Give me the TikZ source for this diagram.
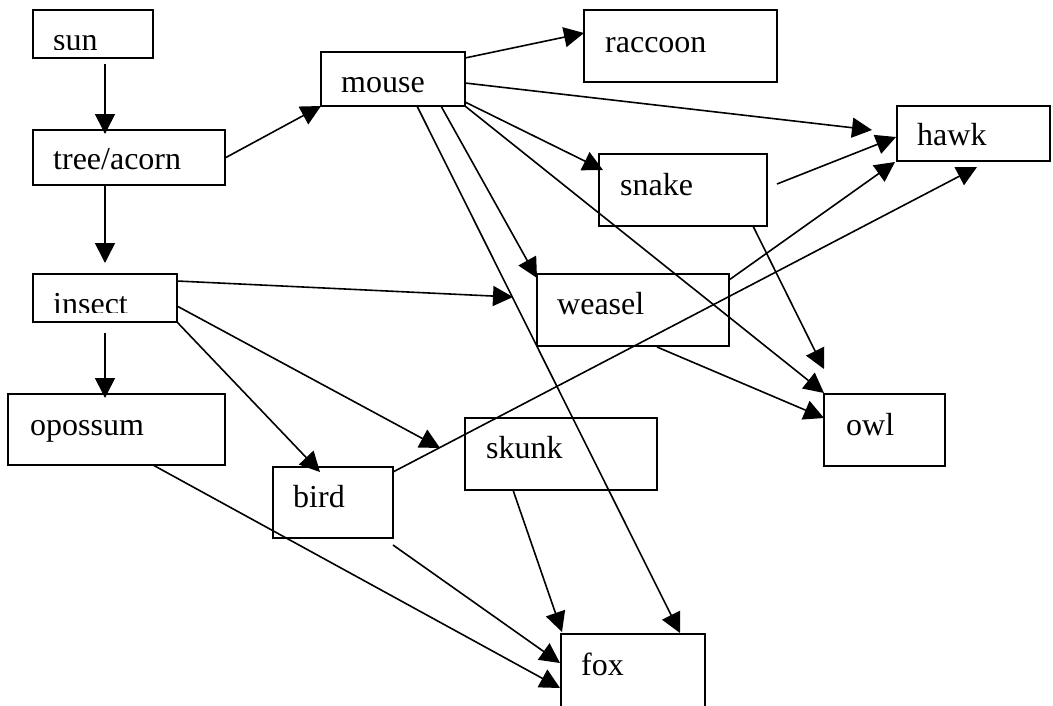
\documentclass[tikz,border=0pt]{standalone}
\usepackage{fontspec}
\setmainfont{Liberation Serif}
\usetikzlibrary{arrows.meta,calc}

\tikzset{
  box/.style={draw, line width=1.9pt, inner sep=0pt, outer sep=0pt, anchor=north west},
  lbl/.style={inner sep=0pt, anchor=base west, font=\fontsize{32}{38}\selectfont},
  arr/.style={line width=1.6pt, -{Triangle[length=20pt,width=20pt]}},
}

\begin{document}
\begin{tikzpicture}[x=1pt, y=-1pt]
\useasboundingbox (0,0) rectangle (1053,705);
\clip (0,0) rectangle (1053,705);
\fill[white] (0,0) rectangle (1053,705);

% boxes
\node[box, minimum width=120pt, minimum height=48pt] (sun)     at (33,10)   {};
\node[box, minimum width=192pt, minimum height=55pt] (tree)    at (33,130)  {};
\node[box, minimum width=144pt, minimum height=48pt] (insect)  at (33,274)  {};
\node[box, minimum width=217pt, minimum height=71pt] (opossum) at (8,394)   {};
\node[box, minimum width=144pt, minimum height=54pt] (mouse)   at (321,52)  {};
\node[box, minimum width=193pt, minimum height=72pt] (raccoon) at (584,10)  {};
\node[box, minimum width=153pt, minimum height=55pt] (hawk)    at (897,106) {};
\node[box, minimum width=168pt, minimum height=72pt] (snake)   at (599,154) {};
\node[box, minimum width=192pt, minimum height=72pt] (weasel)  at (537,274) {};
\node[box, minimum width=121pt, minimum height=72pt] (owl)     at (824,394) {};
\node[box, minimum width=192pt, minimum height=72pt] (skunk)   at (465,418) {};
\node[box, minimum width=120pt, minimum height=71pt] (bird)    at (273,467) {};
\node[box, minimum width=144pt, minimum height=80pt] (fox)     at (561,634) {};

% labels (the two short boxes cut their text off at the bottom)
\begin{scope}
  \clip (sun.north west) rectangle ($(sun.north east)+(0,39)$);
  \node[lbl] (sun-t) at (53,50) {sun};
\end{scope}
\node[lbl] (tree-t)    at (53,169)  {tree/acorn};
\begin{scope}
  \clip (insect.north west) rectangle ($(insect.north east)+(0,38)$);
  \node[lbl] (insect-t) at (53,314) {insect};
\end{scope}
\node[lbl] (opossum-t) at (30,435)  {opossum};
\node[lbl] (mouse-t)   at (341,92)  {mouse};
\node[lbl] (raccoon-t) at (605,52)  {raccoon};
\node[lbl] (hawk-t)    at (917,145) {hawk};
\node[lbl] (snake-t)   at (620,195) {snake};
\node[lbl] (weasel-t)  at (557,314) {weasel};
\node[lbl] (owl-t)     at (846,435) {owl};
\node[lbl] (skunk-t)   at (486,458) {skunk};
\node[lbl] (bird-t)    at (293,507) {bird};
\node[lbl] (fox-t)     at (581,675) {fox};

% food-chain arrows
\draw[arr] ($(sun.north west)+(72,54)$)     -- ($(tree.north west)+(72,4)$);
\draw[arr] ($(tree.north west)+(72,55)$)    -- ($(insect.north west)+(72,-11)$);
\draw[arr] ($(insect.north west)+(72,59)$)  -- ($(opossum.north west)+(97,4)$);
\draw[arr] ($(tree.north west)+(192,28)$)   -- ($(mouse.north west)+(0,54)$);

\draw[arr] ($(mouse.north west)+(144,6)$)   -- ($(raccoon.north west)+(0,23)$);
\draw[arr] ($(mouse.north west)+(144,31)$)  -- ($(hawk.north west)+(-25,24)$);
\draw[arr] ($(mouse.north west)+(144,50)$)  -- ($(snake.north west)+(4,16)$);
\draw[arr] (mouse.south east)               -- ($(owl.north west)+(0,-1)$);
\draw[arr] ($(mouse.north west)+(120,54)$)  -- ($(weasel.north west)+(0,4)$);
\draw[arr] ($(mouse.north west)+(96,54)$)   -- ($(fox.north west)+(119,-1)$);

\draw[arr] ($(snake.north west)+(178,30)$)  -- ($(hawk.north west)+(-1,31)$);
\draw[arr] ($(snake.north west)+(154,72)$)  -- ($(owl.north west)+(0,-25)$);

\draw[arr] ($(insect.north west)+(144,7)$)  -- ($(weasel.north west)+(-24,23)$);
\draw[arr] ($(insect.north west)+(144,32)$) -- ($(skunk.north west)+(-25,30)$);
\draw[arr] (insect.south east)              -- ($(bird.north west)+(47,5)$);

\draw[arr] ($(weasel.north west)+(192,6)$)  -- ($(hawk.north west)+(-2,56)$);
\draw[arr] ($(weasel.north west)+(120,73)$) -- ($(owl.north west)+(0,24)$);

\draw[arr] ($(bird.north west)+(120,5)$)    -- ($(hawk.north west)+(80,61)$);
\draw[arr] ($(bird.north west)+(120,78)$)   -- ($(fox.north west)+(-1,29)$);
\draw[arr] ($(opossum.north west)+(145,71)$) -- ($(fox.north west)+(-1,54)$);
\draw[arr] ($(skunk.north west)+(48,72)$)   -- ($(fox.north west)+(1,-2)$);
\end{tikzpicture}
\end{document}
